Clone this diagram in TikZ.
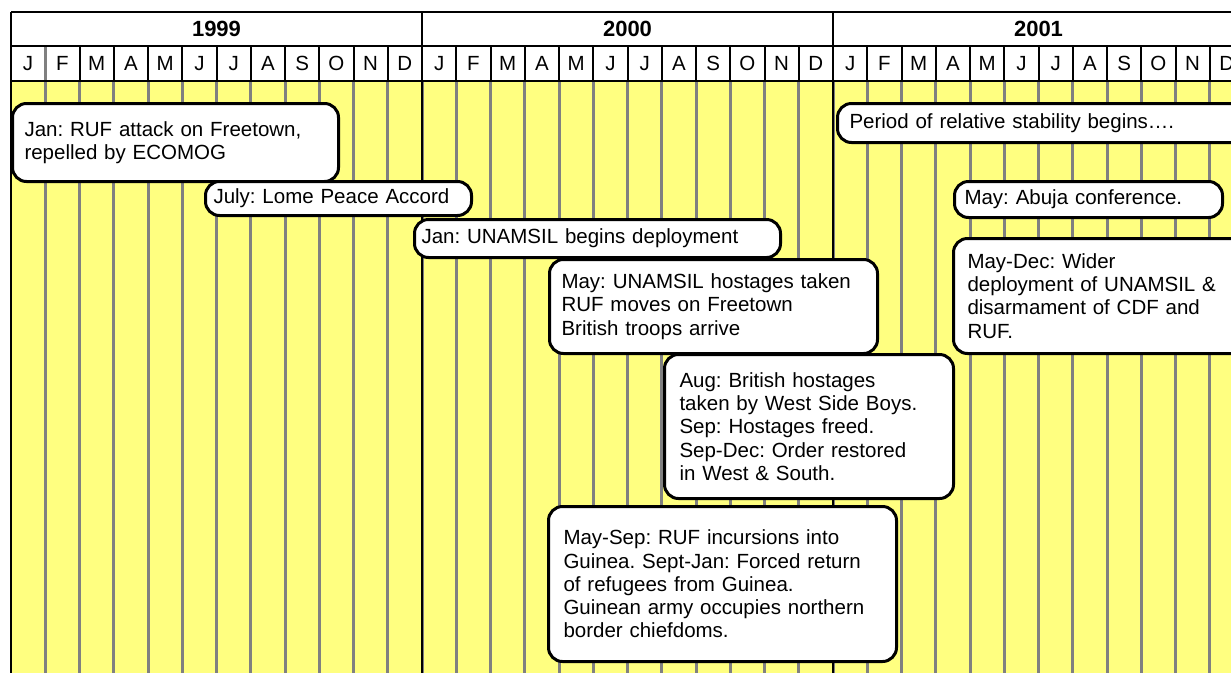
\documentclass[tikz,border=0pt]{standalone}
\usepackage{fontspec}
\setmainfont{Liberation Sans}
\usepackage{tikz}
\definecolor{gridyellow}{HTML}{FFFF80}
\definecolor{gridgrey}{HTML}{808080}

\begin{document}
\frenchspacing
\begin{tikzpicture}[x=1pt, y=-1pt,
    evbox/.style={rectangle, rounded corners=14pt, draw, line width=3pt, fill=white, align=left, anchor=north west, inner ysep=3pt, font=\fontsize{20.5}{23.3}\selectfont},
    monthlbl/.style={font=\fontsize{20.5}{24}\selectfont},
    yearlbl/.style={font=\fontsize{22}{24}\selectfont\bfseries},
    monthline/.style={gridgrey, line width=3pt},
    rule/.style={black, line width=2pt}
]
\useasboundingbox[fill=white] (0,0) rectangle (1231,673);

% yellow grid area
\fill[gridyellow] (11,81) rectangle (1250,673);
\foreach \i in {1,...,35}
    \draw[monthline] ({11+\i*34.25},81) -- ({11+\i*34.25},673);
\draw[monthline] ({11+34.25},46) -- ({11+34.25},81);

% header rows
\draw[rule] (11,12) -- (1250,12);
\draw[rule] (11,46) -- (1250,46);
\draw[rule] (11,81) -- (1250,81);
\foreach \i in {2,...,11,13,14,...,23,25,26,...,35}
    \draw[rule] ({11+\i*34.25},46) -- ({11+\i*34.25},81);
\foreach \i in {0,12,24,36}
    \draw[rule] ({11+\i*34.25},12) -- ({11+\i*34.25},673);

% year and month labels
\foreach \y [count=\k from 0] in {1999,2000,2001} {
    \node[yearlbl] (y\y) at ({11+(\k*12+6)*34.25},29) {\y};
    \foreach \m [count=\j from 0] in {J,F,M,A,M,J,J,A,S,O,N,D}
        \node[monthlbl] (m\y-\j) at ({11+(\k*12+\j+0.5)*34.25},63.5) {\m};
}

% events
\node[evbox, inner xsep=12pt, text width=302pt, minimum height=78pt] (freetown) at (11,102)
    {Jan: RUF attack on Freetown,\\repelled by ECOMOG};
\node[evbox, inner xsep=8pt, text width=250pt, minimum height=34pt] (lome) at (204,180)
    {July: Lome Peace Accord};
\node[evbox, inner xsep=7pt, text width=352pt, minimum height=38pt] (unamsil) at (413,218)
    {Jan: UNAMSIL begins deployment};
\node[evbox, inner xsep=12pt, text width=304pt, minimum height=94pt] (hostages) at (548,258)
    {May: UNAMSIL hostages taken\\RUF moves on Freetown\\British troops arrive};
\node[evbox, inner xsep=15pt, text width=259pt, minimum height=144pt] (british) at (663,353)
    {Aug: British hostages\\taken by West Side Boys.\\Sep: Hostages freed.\\Sep-Dec: Order restored\\in West \& South.};
\node[evbox, inner xsep=15pt, text width=318pt, minimum height=155pt] (guinea) at (547,505)
    {May-Sep: RUF incursions into\\Guinea. Sept-Jan: Forced return\\of refugees from Guinea.\\Guinean army occupies northern\\border chiefdoms.};
\node[evbox, inner xsep=12pt, text width=396pt, minimum height=39pt] (stability) at (836,102)
    {Period of relative stability begins….};
\node[evbox, inner xsep=10pt, text width=248pt, minimum height=36pt] (abuja) at (953,180)
    {May: Abuja conference.};
\node[evbox, inner xsep=14pt, text width=272pt, minimum height=115pt] (wider) at (952,237)
    {May-Dec: Wider\\deployment of UNAMSIL \&\\disarmament of CDF and\\RUF.};

\end{tikzpicture}
\end{document}
